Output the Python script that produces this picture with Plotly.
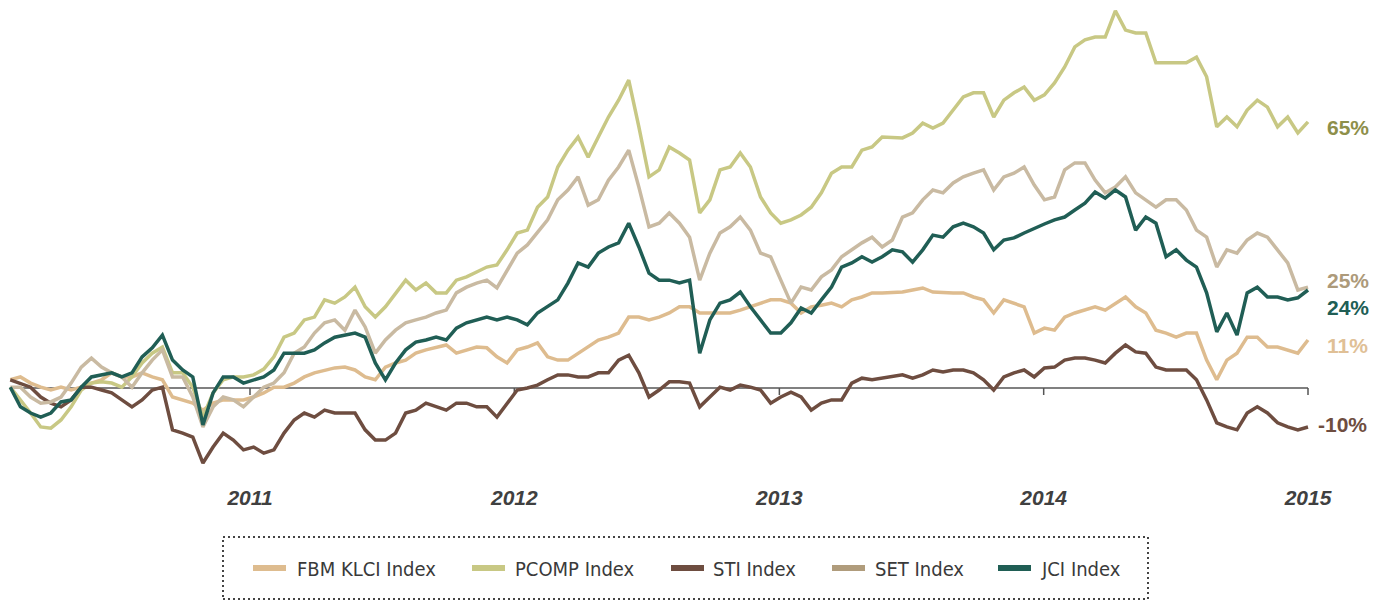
import pandas as pd
import plotly.graph_objects as go

# ---------------- data (cumulative return, %) ----------------
dates = pd.date_range("2010-02-04", periods=129, freq="14D")

series_names = ["FBM KLCI Index", "PCOMP Index", "STI Index", "SET Index", "JCI Index"]

fbm_klci = [2.0, 2.7, 1.2, 0.2, -0.5, 0.2, -0.5, 0.2, 1.2, 2.0,
            3.7, 2.7, 2.7, 3.7, 2.7, 2.0, -2.2, -2.9, -3.7, -5.4,
            -3.7, -2.9, -2.9, -2.9, -2.2, -1.2, 0.2, 0.2, 1.2, 2.7,
            3.7, 4.4, 4.9, 5.1, 4.4, 2.7, 2.0, 5.1, 6.1, 6.8,
            8.5, 9.3, 10.0, 10.5, 8.5, 9.3, 10.0, 9.8, 7.6, 6.1,
            9.3, 10.0, 11.0, 7.6, 6.8, 6.8, 8.5, 10.0, 11.7, 12.4,
            13.4, 17.3, 17.3, 16.6, 17.3, 18.3, 19.8, 19.8, 18.3, 18.3,
            18.3, 18.3, 19.0, 19.8, 20.7, 21.5, 21.5, 20.7, 18.3, 19.8,
            20.2, 20.7, 19.8, 21.5, 22.2, 23.2, 23.2, 23.2, 23.4, 23.9,
            24.4, 23.4, 23.2, 23.2, 23.2, 22.2, 21.5, 18.3, 21.5, 20.7,
            19.8, 13.4, 14.6, 14.1, 17.3, 18.3, 19.0, 19.8, 19.0, 20.7,
            22.2, 19.8, 18.3, 14.1, 13.4, 12.4, 13.4, 13.4, 6.8, 2.0,
            6.8, 8.5, 12.4, 12.4, 10.0, 10.0, 9.3, 8.5, 11.7]

pcomp = [0.2, -2.9, -6.1, -9.5, -9.8, -7.8, -4.6, -0.5, 1.2, 1.5,
         1.2, 0.2, 2.7, 6.1, 8.5, 10.0, 3.7, 3.7, 0.2, -7.1,
         -1.2, 2.0, 2.7, 2.7, 3.2, 4.6, 7.6, 12.4, 13.4, 16.6,
         17.3, 21.5, 20.7, 22.2, 24.6, 19.8, 17.3, 19.8, 23.2, 26.3,
         23.9, 25.6, 23.2, 23.2, 26.3, 27.1, 28.3, 29.5, 30.0, 33.7,
         37.8, 38.5, 44.1, 46.6, 53.9, 58.0, 61.2, 56.3, 61.2, 66.1,
         70.2, 75.1, 63.7, 51.5, 53.2, 58.8, 57.3, 55.6, 42.7, 45.9,
         53.2, 53.9, 57.3, 53.9, 46.6, 42.7, 40.2, 41.0, 42.2, 44.1,
         47.6, 52.4, 53.9, 53.9, 58.0, 58.8, 61.2, 61.2, 61.0, 62.2,
         64.6, 63.4, 64.6, 67.8, 71.0, 72.0, 72.0, 66.1, 70.2, 72.0,
         73.4, 70.2, 71.5, 74.4, 78.3, 83.2, 84.9, 85.6, 85.6, 92.0,
         87.3, 86.6, 86.6, 79.3, 79.3, 79.3, 79.3, 80.7, 75.9, 63.7,
         66.1, 63.7, 67.8, 70.2, 68.5, 63.7, 66.1, 62.2, 64.9]

sti = [2.0, 1.2, 0.2, -2.2, -3.7, -4.6, -2.9, 0.2, 0.2, -0.5,
       -1.2, -2.9, -4.6, -2.9, -0.5, 0.2, -10.2, -11.0, -12.0, -18.3,
       -14.4, -11.0, -12.7, -15.1, -14.4, -15.9, -15.1, -11.0, -7.8, -6.1,
       -7.1, -5.4, -6.1, -6.1, -6.1, -10.2, -12.7, -12.7, -11.0, -6.1,
       -5.4, -3.7, -4.6, -5.4, -3.7, -3.7, -4.6, -4.6, -7.1, -3.7,
       -0.5, 0.0, 0.7, 2.0, 3.2, 3.2, 2.7, 2.7, 3.7, 3.7,
       6.8, 8.0, 3.7, -2.2, -0.5, 1.5, 1.5, 1.2, -4.6, -2.2,
       0.2, -0.5, 0.7, 0.2, -0.5, -3.7, -2.2, -1.0, -2.2, -5.4,
       -3.7, -2.9, -2.9, 1.2, 2.4, 2.0, 2.4, 2.7, 3.2, 2.4,
       3.2, 4.4, 3.9, 4.4, 4.4, 3.7, 2.0, -0.5, 2.7, 3.7,
       4.4, 2.7, 4.9, 5.1, 6.8, 7.3, 7.3, 6.8, 6.1, 8.5,
       10.5, 8.8, 8.5, 5.1, 4.4, 4.4, 4.4, 2.0, -2.9, -8.5,
       -9.5, -10.2, -6.1, -4.6, -6.1, -8.5, -9.5, -10.2, -9.5]

set_index = [0.2, 0.2, -2.2, -3.7, -3.4, -2.2, 1.2, 5.1, 7.3, 5.1,
             3.7, 2.7, 0.2, 3.7, 6.8, 9.3, 2.7, 2.7, -2.2, -9.5,
             -4.6, -2.2, -2.9, -4.6, -2.2, 0.2, 1.2, 3.7, 8.5, 10.0,
             13.4, 15.9, 16.6, 14.1, 19.0, 14.9, 8.5, 11.7, 14.1, 15.9,
             16.6, 17.3, 18.3, 19.0, 23.2, 24.6, 25.6, 26.3, 24.4, 28.8,
             32.9, 34.9, 37.8, 41.0, 45.9, 48.3, 51.5, 44.6, 45.9, 50.7,
             53.9, 58.0, 49.0, 39.3, 40.2, 42.7, 40.2, 36.8, 26.3, 32.9,
             37.8, 39.3, 41.7, 38.5, 32.9, 32.0, 26.3, 20.7, 24.6, 23.9,
             27.1, 28.8, 32.0, 33.7, 35.4, 36.8, 34.4, 36.1, 41.7, 42.7,
             45.9, 48.3, 47.6, 50.0, 51.5, 52.4, 53.2, 48.3, 51.5, 52.4,
             53.9, 49.5, 45.9, 46.6, 53.2, 54.9, 54.9, 50.7, 47.6, 49.0,
             51.5, 47.6, 45.9, 44.1, 45.9, 45.9, 43.4, 38.5, 36.8, 29.5,
             33.7, 32.9, 36.1, 37.8, 36.8, 33.7, 30.5, 23.9, 24.6]

jci = [0.2, -4.6, -6.1, -7.1, -6.1, -3.4, -2.9, 0.2, 2.7, 3.2,
       3.7, 2.7, 3.7, 7.6, 9.8, 12.9, 6.8, 4.4, 2.7, -9.0,
       -1.2, 2.7, 2.7, 1.2, 2.0, 2.7, 4.4, 8.5, 8.5, 8.5,
       9.3, 11.0, 12.4, 12.9, 13.4, 12.4, 6.1, 2.0, 6.1, 9.3,
       11.2, 11.7, 12.4, 11.7, 14.6, 15.9, 16.6, 17.3, 16.6, 17.3,
       16.6, 15.4, 18.3, 19.8, 21.5, 25.6, 30.5, 29.5, 32.9, 34.4,
       35.4, 40.2, 34.4, 28.0, 26.3, 26.3, 25.6, 26.3, 8.5, 16.6,
       20.7, 21.5, 23.4, 19.8, 16.6, 13.4, 13.4, 15.9, 19.5, 18.3,
       21.5, 24.6, 29.5, 30.5, 32.0, 30.7, 32.0, 33.7, 33.2, 30.7,
       33.7, 37.3, 36.8, 39.3, 40.2, 39.3, 37.8, 33.7, 36.1, 36.6,
       37.8, 39.0, 40.0, 41.0, 41.7, 43.4, 45.1, 47.8, 46.3, 48.3,
       46.6, 38.5, 41.7, 40.2, 32.0, 33.7, 31.2, 29.5, 23.2, 13.7,
       18.3, 12.9, 23.2, 24.6, 22.2, 22.2, 21.5, 22.0, 23.9]

end_labels = ["11%", "65%", "-10%", "25%", "24%"]
year_labels = ["2011", "2012", "2013", "2014", "2015"]

# ---------------- styling ----------------
W, H = 1380, 601
PLOT_BOTTOM = 483          # px from top where the plot area ends
ZERO_PX = 388              # px of the 0 % line
PX_PER_PCT = 4.1
PX_2011 = 250              # px of 1 Jan 2011
PX_PER_YEAR = 264.5

line_colors = ["#DEBC8F", "#C8C884", "#6E4D40", "#C9BAA2", "#205E55"]
swatch_colors = ["#DEBC8F", "#C8C884", "#6E4D40", "#B09C7C", "#205E55"]
label_colors = ["#E0C096", "#8E8F4A", "#6E4D40", "#AD9A7A", "#205E55"]
label_px = [(1325, 345), (1325, 127), (1316, 424), (1325, 280), (1325, 307)]

legend_swatch_x = [253, 472, 671, 832, 998]
legend_text_x = [295, 513, 711, 873, 1039]
LEGEND_Y = 568

values = [fbm_klci, pcomp, sti, set_index, jci]

px_per_day = PX_PER_YEAR / 365.25
t2011 = pd.Timestamp("2011-01-01")
x_start = t2011 - pd.Timedelta(days=PX_2011 / px_per_day)
x_end = t2011 + pd.Timedelta(days=(W - PX_2011) / px_per_day)
y_min = -(PLOT_BOTTOM - ZERO_PX) / PX_PER_PCT
y_max = ZERO_PX / PX_PER_PCT


def py(p):
    return (PLOT_BOTTOM - p) / PLOT_BOTTOM


def px(p):
    return p / W


fig = go.Figure()
for name, vals, col in zip(series_names, values, line_colors):
    fig.add_trace(go.Scatter(x=dates, y=vals, mode="lines", name=name,
                             line=dict(color=col, width=3.5), showlegend=False))

shapes = []
# zero line
shapes.append(dict(type="line", xref="x", yref="y", x0=dates[0], x1=dates[-1], y0=0, y1=0,
                   line=dict(color="#808080", width=2), layer="below"))
year_dates = [pd.Timestamp(f"{y}-01-01") for y in year_labels]
for d in year_dates:
    shapes.append(dict(type="line", xref="x", yref="y", x0=d, x1=d, y0=0, y1=-7 / PX_PER_PCT,
                       line=dict(color="#555555", width=1.5), layer="below"))

# legend box
shapes.append(dict(type="rect", xref="paper", yref="paper", x0=px(223), x1=px(1148),
                   y0=py(599), y1=py(537), line=dict(color="#444444", width=2, dash="2px,3px")))

annotations = []
for i, name in enumerate(series_names):
    x0 = legend_swatch_x[i]
    shapes.append(dict(type="line", xref="paper", yref="paper", x0=px(x0), x1=px(x0 + 33),
                       y0=py(LEGEND_Y), y1=py(LEGEND_Y),
                       line=dict(color=swatch_colors[i], width=6)))
    annotations.append(dict(xref="paper", yref="paper", x=px(legend_text_x[i]), y=py(LEGEND_Y + 1),
                            text=name, showarrow=False, xanchor="left", yanchor="middle",
                            font=dict(family="DejaVu Sans Condensed, sans-serif",
                                      size=20, color="#3a3a3a")))
    lx, ly = label_px[i]
    annotations.append(dict(xref="paper", yref="y", x=px(lx), y=(ZERO_PX - ly) / PX_PER_PCT,
                            text=end_labels[i], showarrow=False, xanchor="left", yanchor="middle",
                            font=dict(family="Liberation Sans, Arial, sans-serif", size=21,
                                      color=label_colors[i], weight="bold")))

fig.update_layout(
    width=W, height=H,
    margin=dict(l=0, r=0, t=0, b=H - PLOT_BOTTOM, autoexpand=False),
    paper_bgcolor="white", plot_bgcolor="white",
    shapes=shapes, annotations=annotations,
    xaxis=dict(range=[x_start, x_end], tickvals=year_dates, ticktext=year_labels,
               showgrid=False, zeroline=False, showline=False, ticks="",
               tickfont=dict(family="Liberation Sans, Arial, sans-serif", size=21,
                             color="#404040", weight="bold", style="italic")),
    yaxis=dict(range=[y_min, y_max], visible=False, showgrid=False, zeroline=False),
    showlegend=False,
)

fig.write_html("out.html",
               config={"displayModeBar": False},
               post_script="document.body.style.margin='0';document.body.style.overflow='hidden';")
